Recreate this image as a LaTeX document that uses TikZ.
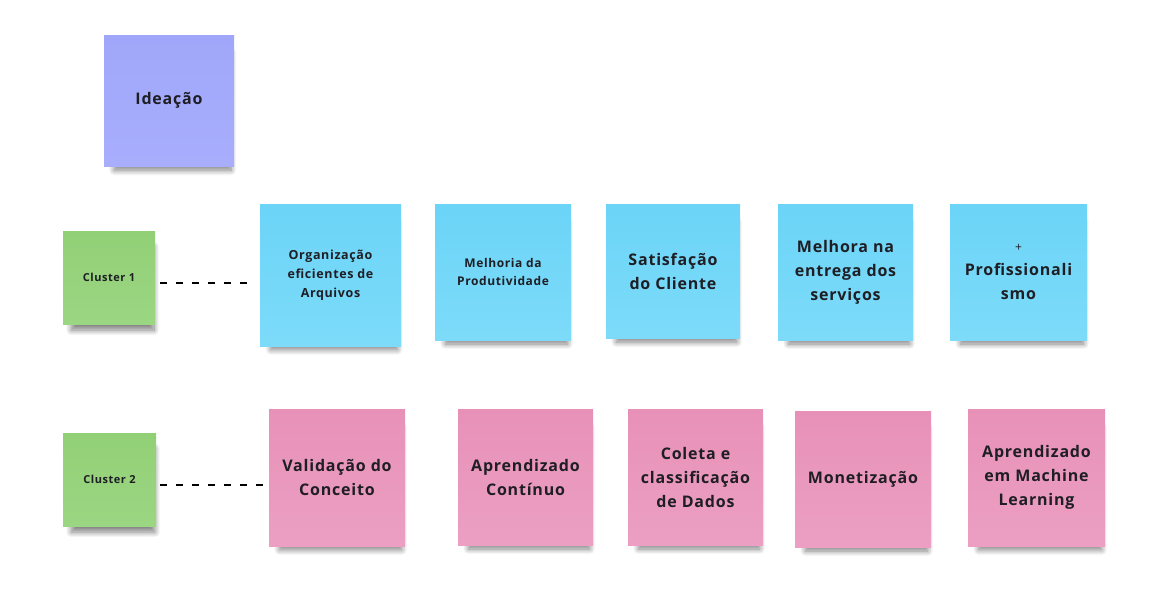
\documentclass[tikz,border=0pt]{standalone}
\usepackage{fontspec}
\setmainfont{Open Sans}
\newfontfamily\nf{Open Sans}[LetterSpace=5]
\usetikzlibrary{shadows.blur}
\definecolor{ideiaT}{HTML}{A0A7FA}
\definecolor{ideiaB}{HTML}{A8AEFC}
\definecolor{clusT}{HTML}{92D076}
\definecolor{clusB}{HTML}{9BD682}
\definecolor{azulT}{HTML}{6BD4F7}
\definecolor{azulB}{HTML}{7DDBF9}
\definecolor{rosaT}{HTML}{E891B8}
\definecolor{rosaB}{HTML}{EC9FC3}
\definecolor{txt}{HTML}{1E1E24}
\tikzset{
  note/.style={anchor=north west, inner sep=0pt, outer sep=0pt, align=center,
    text=txt, font=\nf\bfseries\fontsize{16}{24}\selectfont,
    blur shadow={shadow xshift=4pt, shadow yshift=-12pt, shadow scale=0.9,
      shadow opacity=50, shadow blur steps=14, shadow blur radius=6pt}},
  purple/.style={top color=ideiaT, bottom color=ideiaB},
  green/.style={top color=clusT, bottom color=clusB},
  blue/.style={top color=azulT, bottom color=azulB},
  pink/.style={top color=rosaT, bottom color=rosaB},
  sz/.style 2 args={minimum width=#1, minimum height=#2},
  dashline/.style={draw=black, line width=1.4pt, dash pattern=on 7pt off 9pt},
}
\begin{document}
\begin{tikzpicture}[x=1pt,y=-1pt]
\useasboundingbox (0,0) rectangle (1161,606);
% header
\node[note, purple, sz={130pt}{131pt}] (idea) at (104,35) {Ideação};
% clusters
\node[note, green, sz={92pt}{93pt}, font=\nf\bfseries\fontsize{11}{13}\selectfont] (c1) at (63,231) {Cluster 1};
\node[note, green, sz={93pt}{93pt}, font=\nf\bfseries\fontsize{11}{13}\selectfont] (c2) at (63,433) {Cluster 2};
% row 1
\node[note, blue, sz={141pt}{142pt}, font=\nf\bfseries\fontsize{12.5}{19}\selectfont] (a1) at (260,204) {Organização\\eficientes de\\Arquivos};
\node[note, blue, sz={136pt}{136pt}, font=\nf\bfseries\fontsize{12}{18}\selectfont] (a2) at (435,204) {Melhoria da\\Produtividade};
\node[note, blue, sz={134pt}{134pt}] (a3) at (606,204) {Satisfação\\do Cliente};
\node[note, blue, sz={135pt}{136pt}] (a4) at (778,204) {Melhora na\\entrega dos\\serviços};
\node[note, blue, sz={137pt}{136pt}] (a5) at (950,204) {{\mdseries\fontsize{12}{24}\selectfont +}\\Profissionali\\smo};
% row 2
\node[note, pink, sz={136pt}{137pt}] (b1) at (269,409) {Validação do\\Conceito};
\node[note, pink, sz={135pt}{136pt}] (b2) at (458,409) {Aprendizado\\Contínuo};
\node[note, pink, sz={135pt}{136pt}] (b3) at (628,409) {Coleta e\\classificação\\de Dados};
\node[note, pink, sz={136pt}{136pt}] (b4) at (795,411) {Monetização};
\node[note, pink, sz={137pt}{137pt}] (b5) at (968,409) {Aprendizado\\em Machine\\Learning};
% dashed connectors
\coordinate (d1s) at (160,283);
\coordinate (d1e) at (248,283);
\coordinate (d2s) at (160,485);
\coordinate (d2e) at (264,485);
\draw[dashline] (d1s) -- (d1e);
\draw[dashline] (d2s) -- (d2e);
\end{tikzpicture}
\end{document}
